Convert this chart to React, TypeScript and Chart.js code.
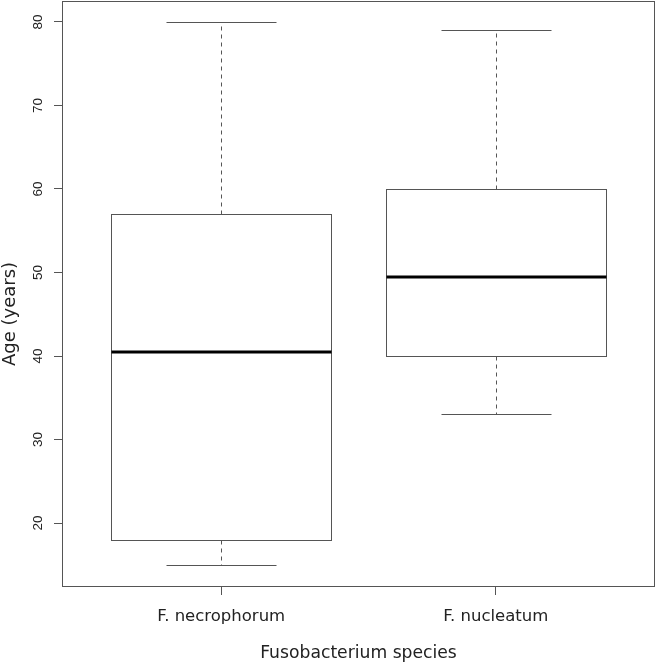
import { useEffect, useRef } from 'react';
import { Chart, registerables } from 'chart.js';

Chart.register(...registerables);

const categories = ['F. necrophorum', 'F. nucleatum'];
const whiskerLow = [15, 33];
const quartile1 = [18, 40];
const medians = [40.5, 49.5];
const quartile3 = [57, 60];
const whiskerHigh = [80, 79];
const yTickValues = [20, 30, 40, 50, 60, 70, 80];
const xTitle = 'Fusobacterium species';
const yTitle = 'Age (years)';

const LINE = '#555';
const TEXT = '#222';

const boxPlugin = {
  id: 'rBoxplot',
  afterDraw(chart: any) {
    const { ctx, chartArea: a, scales } = chart;
    const x = scales.x;
    const y = scales.y;
    const snap = (v: number) => Math.round(v) + 0.5;
    ctx.save();
    ctx.lineWidth = 1;
    ctx.strokeStyle = LINE;

    categories.forEach((_, i) => {
      const c = i + 1;
      const cx = snap(x.getPixelForValue(c));
      const bl = snap(x.getPixelForValue(c - 0.4));
      const br = snap(x.getPixelForValue(c + 0.4));
      const capL = snap(x.getPixelForValue(c - 0.2));
      const capR = snap(x.getPixelForValue(c + 0.2));
      const yLo = snap(y.getPixelForValue(whiskerLow[i]));
      const yQ1 = snap(y.getPixelForValue(quartile1[i]));
      const yMed = y.getPixelForValue(medians[i]);
      const yQ3 = snap(y.getPixelForValue(quartile3[i]));
      const yHi = snap(y.getPixelForValue(whiskerHigh[i]));

      ctx.strokeStyle = LINE;
      ctx.setLineDash([4, 4]);
      ctx.beginPath();
      ctx.moveTo(cx, yQ3);
      ctx.lineTo(cx, yHi);
      ctx.moveTo(cx, yQ1);
      ctx.lineTo(cx, yLo);
      ctx.stroke();
      ctx.setLineDash([]);

      ctx.beginPath();
      ctx.moveTo(capL, yHi);
      ctx.lineTo(capR, yHi);
      ctx.moveTo(capL, yLo);
      ctx.lineTo(capR, yLo);
      ctx.stroke();

      ctx.fillStyle = '#fff';
      ctx.fillRect(bl, yQ3, br - bl, yQ1 - yQ3);
      ctx.strokeRect(bl, yQ3, br - bl, yQ1 - yQ3);

      ctx.strokeStyle = '#000';
      ctx.lineWidth = 3;
      ctx.beginPath();
      ctx.moveTo(bl, Math.round(yMed));
      ctx.lineTo(br, Math.round(yMed));
      ctx.stroke();
      ctx.lineWidth = 1;
    });

    ctx.strokeStyle = LINE;
    ctx.strokeRect(a.left + 0.5, a.top + 0.5, a.right - a.left - 1, a.bottom - a.top - 1);

    ctx.fillStyle = TEXT;
    ctx.textAlign = 'center';
    ctx.textBaseline = 'alphabetic';
    ctx.font = '17.2px "DejaVu Sans"';
    ctx.fillText(xTitle, (a.left + a.right) / 2, chart.height - 5);

    ctx.save();
    ctx.font = '18px "DejaVu Sans"';
    ctx.translate(15, (a.top + a.bottom) / 2 + 20);
    ctx.rotate(-Math.PI / 2);
    ctx.fillText(yTitle, 0, 0);
    ctx.restore();

    ctx.restore();
  },
};

export default function App() {
  const ref = useRef<HTMLCanvasElement>(null);
  useEffect(() => {
    const chart = new Chart(ref.current as HTMLCanvasElement, {
      type: 'scatter',
      data: { datasets: [] },
      options: {
        animation: false,
        responsive: false,
        devicePixelRatio: 1,
        layout: { padding: { top: 1, right: 1, left: 0, bottom: 0 } },
        plugins: { legend: { display: false }, tooltip: { enabled: false } },
        scales: {
          x: {
            type: 'linear',
            min: 0.42,
            max: 2.58,
            afterBuildTicks: (s: any) => {
              s.ticks = categories.map((_, i) => ({ value: i + 1 }));
            },
            afterFit: (s: any) => {
              s.height = 76;
              s.paddingLeft = 0;
              s.paddingRight = 0;
            },
            border: { display: false },
            grid: { drawOnChartArea: false, drawTicks: true, tickLength: 8, color: LINE, lineWidth: 1 },
            ticks: {
              autoSkip: false,
              maxRotation: 0,
              minRotation: 0,
              padding: 12,
              color: TEXT,
              font: { family: '"DejaVu Sans"', size: 16.5 },
              callback: (_v: any, idx: number) => categories[idx],
            },
          },
          y: {
            type: 'linear',
            min: 12.35,
            max: 82.5,
            afterBuildTicks: (s: any) => {
              s.ticks = yTickValues.map((v) => ({ value: v }));
            },
            afterFit: (s: any) => {
              s.width = 62;
              s.paddingTop = 0;
              s.paddingBottom = 0;
            },
            border: { display: false },
            grid: { drawOnChartArea: false, drawTicks: true, tickLength: 8, color: LINE, lineWidth: 1 },
            ticks: {
              autoSkip: false,
              minRotation: 90,
              maxRotation: 90,
              crossAlign: 'center',
              padding: 8.5,
              color: TEXT,
              font: { family: '"Liberation Sans"', size: 13.5 },
            },
          },
        },
      },
      plugins: [boxPlugin],
    } as any);
    return () => chart.destroy();
  }, []);
  return (
    <div style={{ position: 'absolute', left: 0, top: 0, width: 656, height: 663, background: '#fff' }}>
      <canvas ref={ref} width={656} height={663} style={{ display: 'block', width: 656, height: 663 }} />
    </div>
  );
}
